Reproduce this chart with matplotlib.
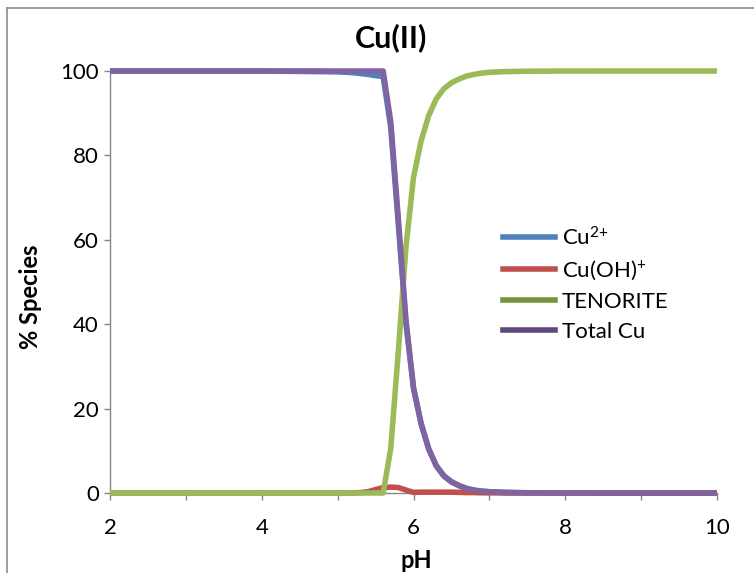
import matplotlib
matplotlib.use("Agg")
import matplotlib.pyplot as plt
from matplotlib.lines import Line2D
from matplotlib.ticker import MultipleLocator

plt.rcParams['font.family'] = ['Lato', 'DejaVu Sans']
plt.rcParams['mathtext.fontset'] = 'custom'
plt.rcParams['mathtext.rm'] = 'Lato'
plt.rcParams['mathtext.default'] = 'regular'

# --- Andmed (loetud pildilt) ---
ph = [2.0, 2.5, 3.0, 3.5, 4.0, 4.5, 5.0, 5.1, 5.2, 5.3, 5.4, 5.5, 5.6, 5.7, 5.8, 5.9,
      6.0, 6.1, 6.2, 6.3, 6.4, 6.5, 6.6, 6.7, 6.8, 6.9, 7.0, 7.2, 7.4, 7.6, 8.0,
      8.5, 9.0, 9.5, 10.0]
cu2 = [100, 100, 100, 100, 100, 99.9, 99.8, 99.7, 99.6, 99.4, 99.2, 98.9, 98.7, 86.6,
       63.7, 40.3, 24.8, 16.4, 10.4, 6.4, 4.0, 2.6, 1.7, 1.0, 0.6, 0.4, 0.3, 0.15,
       0.08, 0.04, 0.01, 0, 0, 0, 0]
cuoh = [0, 0, 0, 0, 0, 0, 0, 0, 0, 0.1, 0.3, 0.8, 1.3, 1.4, 1.3, 0.7,
        0.15, 0.2, 0.2, 0.2, 0.2, 0.2, 0.15, 0.1, 0.1, 0.05, 0.05, 0, 0, 0, 0,
        0, 0, 0, 0]
tenorite = [0, 0, 0, 0, 0, 0, 0, 0, 0, 0, 0, 0, 0, 10.5, 33.5, 58.2,
            74.8, 83.4, 89.4, 93.4, 95.8, 97.2, 98.1, 98.8, 99.2, 99.5, 99.7, 99.85,
            99.92, 99.96, 99.99, 100, 100, 100, 100]
total_cu = [100, 100, 100, 100, 100, 100, 100, 100, 100, 100, 100, 100, 100, 88, 65, 41,
            25, 16.5, 10.5, 6.5, 4.1, 2.7, 1.8, 1.1, 0.7, 0.45, 0.3, 0.15,
            0.08, 0.04, 0.01, 0, 0, 0, 0]

labels = ["Cu$^{2{+}}$", "Cu(OH)$^{+}$", "TENORITE", "Total Cu"]
line_colors = ["#4F81BD", "#C0504D", "#9BBB59", "#8064A2"]
legend_colors = ["#4F81BD", "#C0504D", "#77933C", "#5F497A"]

GRAY = "#868686"

fig = plt.figure(figsize=(7.54, 5.73), dpi=100)
ax = fig.add_axes([110 / 754, 1 - 493 / 573, 607 / 754, 422 / 573])

for ys, c in zip([cu2, cuoh, tenorite, total_cu], line_colors):
    ax.plot(ph, ys, color=c, lw=4.0, clip_on=False, solid_joinstyle="round",
            solid_capstyle="butt", zorder=3)

ax.set_xlim(2, 10)
ax.set_ylim(0, 100)
ax.xaxis.set_major_locator(MultipleLocator(2))
ax.xaxis.set_minor_locator(MultipleLocator(1))
ax.yaxis.set_major_locator(MultipleLocator(20))

for s in ("top", "right"):
    ax.spines[s].set_visible(False)
for s in ("left", "bottom"):
    ax.spines[s].set_color(GRAY)
    ax.spines[s].set_linewidth(1.0)

ax.tick_params(axis="y", which="major", direction="out", length=4, width=1,
               color=GRAY, pad=4, labelsize=16)
ax.tick_params(axis="x", which="both", direction="out", length=5, width=1,
               color=GRAY, pad=13, labelsize=16)

# --- Tekstid ---
fig.text(391 / 754, 1 - 38 / 573, "Cu(II)", ha="center", va="center",
         fontsize=22, fontweight="bold")
fig.text(416 / 754, 1 - 561 / 573, "pH", ha="center", va="center",
         fontsize=17, fontweight="bold")
fig.text(31 / 754, 1 - 297 / 573, "% Species", ha="center", va="center",
         rotation=90, fontsize=17, fontweight="bold")

# --- Legend ---
handles = [Line2D([], [], color=c, lw=4.0) for c in legend_colors]
fig.legend(handles, labels, loc="upper left", bbox_to_anchor=(503 / 754, 1 - 226 / 573),
           bbox_transform=fig.transFigure, frameon=False, fontsize=16,
           borderpad=0, borderaxespad=0, handlelength=2.35, handletextpad=0.3,
           labelspacing=0.44)

# --- Diagrammi raam ---
fig.add_artist(Line2D([7 / 754, 7 / 754], [0, 1 - 8 / 573], transform=fig.transFigure,
                      color="#8C8C8C", lw=1.2))
fig.add_artist(Line2D([7 / 754, 1], [1 - 8 / 573, 1 - 8 / 573], transform=fig.transFigure,
                      color="#8C8C8C", lw=1.2))

fig.savefig("out.png", dpi=100)
